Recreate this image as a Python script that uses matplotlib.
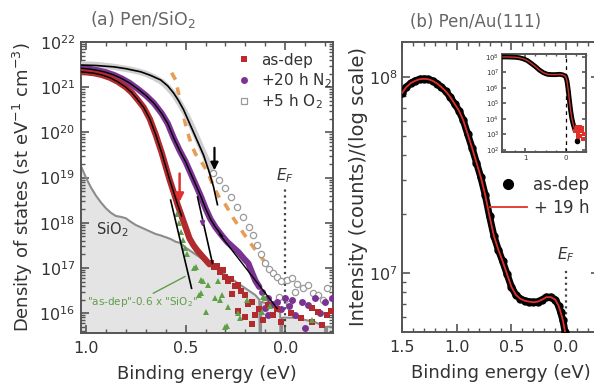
import numpy as np
import matplotlib.pyplot as plt
from matplotlib.lines import Line2D
from matplotlib.ticker import LogLocator, MultipleLocator, NullFormatter, FixedLocator

# ---------------- panel (a): Pen/SiO2, values are log10(DOS) ----------------
asdep_E = [1.025, 1.00, 0.96, 0.92, 0.88, 0.84, 0.80, 0.77, 0.74, 0.71, 0.68, 0.65, 0.62,
           0.60, 0.58, 0.56, 0.54, 0.52, 0.50, 0.48, 0.46, 0.44, 0.42, 0.40, 0.38]
asdep_log = [21.34, 21.33, 21.31, 21.27, 21.21, 21.12, 21.0, 20.88, 20.72, 20.55, 20.3, 19.95, 19.55,
             19.25, 18.95, 18.68, 18.4, 18.15, 17.9, 17.65, 17.5, 17.38, 17.28, 17.18, 17.08]
asdep_tail_E = [0.37, 0.355, 0.34, 0.325, 0.31, 0.30, 0.285, 0.27, 0.265, 0.25, 0.235, 0.235, 0.22,
                0.20, 0.20, 0.185, 0.165, 0.165, 0.15, 0.13, 0.11, 0.085, 0.06, 0.04, 0.02, -0.03,
                -0.08, -0.135, -0.135, -0.165, -0.185, -0.21, -0.23]
asdep_tail_log = [17.12, 17.02, 17.05, 16.92, 16.95, 16.8, 16.7, 16.75, 16.42, 16.6, 16.62, 16.05, 16.5,
                  16.4, 15.92, 16.2, 16.25, 15.75, 15.96, 16.1, 15.85, 16.18, 15.95, 16.1, 15.8, 16.0,
                  15.9, 16.12, 15.8, 16.03, 15.73, 15.95, 16.05]

n2_E = [1.025, 0.98, 0.94, 0.90, 0.86, 0.82, 0.78, 0.74, 0.70, 0.66, 0.62, 0.59, 0.56, 0.53, 0.50,
        0.475, 0.45, 0.425, 0.40, 0.375, 0.35, 0.315, 0.29, 0.265, 0.235, 0.21, 0.185, 0.165, 0.15, 0.13]
n2_log = [21.42, 21.40, 21.37, 21.33, 21.27, 21.19, 21.09, 20.96, 20.82, 20.65, 20.42, 20.2, 19.88, 19.6,
          19.35, 19.1, 18.85, 18.6, 18.32, 18.08, 17.9, 17.7, 17.57, 17.47, 17.35, 17.22, 17.1, 16.88,
          16.72, 16.58]
n2_tail_E = [0.115, 0.10, 0.085, 0.085, 0.065, 0.04, 0.02, 0.0, -0.02, -0.035, -0.05, -0.085, -0.10,
             -0.115, -0.15, -0.175, -0.20, -0.235]
n2_tail_log = [16.47, 16.12, 16.34, 15.96, 16.2, 16.25, 16.1, 16.34, 16.15, 16.3, 15.96, 16.25, 15.67,
               16.18, 16.34, 16.0, 16.25, 16.34]

o2fit_E = [1.025, 0.95, 0.86, 0.80, 0.725, 0.675, 0.625, 0.59, 0.56, 0.535, 0.51, 0.485, 0.46, 0.435,
           0.41, 0.385, 0.36, 0.34]
o2fit_log = [21.49, 21.48, 21.45, 21.41, 21.34, 21.26, 21.16, 21.03, 20.87, 20.7, 20.5, 20.25, 20.0,
             19.75, 19.5, 19.17, 18.8, 18.4]
o2_E = [1.025, 0.98, 0.94, 0.90, 0.86, 0.82, 0.78, 0.74, 0.70, 0.66, 0.62, 0.59, 0.56, 0.53, 0.50,
        0.47, 0.44, 0.41, 0.385, 0.36, 0.33, 0.30, 0.27, 0.24, 0.21, 0.18, 0.16, 0.14, 0.12, 0.10,
        0.08, 0.06, 0.04]
o2_log = [21.5, 21.5, 21.49, 21.47, 21.45, 21.42, 21.39, 21.35, 21.3, 21.22, 21.12, 21.0, 20.85, 20.65,
          20.42, 20.15, 19.85, 19.55, 19.3, 19.1, 18.95, 18.78, 18.57, 18.35, 18.13, 17.9, 17.72, 17.5,
          17.3, 17.1, 16.98, 16.88, 16.8]
o2_tail_E = [0.02, 0.03, -0.01, -0.02, -0.035, -0.05, -0.06, -0.09, -0.115, -0.14, -0.165, -0.19, -0.21]
o2_tail_log = [16.7, 16.35, 16.73, 16.2, 16.78, 16.47, 16.65, 16.55, 16.62, 16.45, 16.4, 16.3, 16.55]

orange_E = [0.57, 0.55, 0.53, 0.51, 0.49, 0.47, 0.45, 0.425, 0.40, 0.385, 0.36, 0.33, 0.30, 0.26,
            0.21, 0.16, 0.11, 0.075]
orange_log = [21.32, 21.16, 20.75, 20.36, 20.0, 19.72, 19.52, 19.38, 19.2, 19.08, 18.8, 18.55, 18.4,
              18.1, 17.77, 17.46, 17.18, 17.0]

green_E = [0.545, 0.535, 0.525, 0.515, 0.505, 0.495, 0.46, 0.45, 0.435, 0.425, 0.425, 0.415, 0.40,
           0.385, 0.35, 0.335, 0.325, 0.315, 0.30, 0.29, 0.285, 0.235, 0.225, 0.19, 0.115, 0.11,
           0.10, 0.075, -0.135]
green_log = [18.2, 18.0, 17.8, 17.62, 17.45, 17.3, 17.0, 17.02, 16.4, 16.73, 16.45, 16.7, 16.03,
             16.62, 16.34, 16.7, 16.3, 16.4, 15.7, 15.72, 16.14, 16.0, 15.9, 16.3, 16.03, 16.35,
             16.34, 16.15, 15.85]

sio2_E = [1.025, 1.0, 0.975, 0.95, 0.925, 0.90, 0.875, 0.85, 0.825, 0.80, 0.775, 0.75, 0.725, 0.70,
          0.675, 0.65, 0.625, 0.60, 0.575, 0.55, 0.525, 0.50, 0.45, 0.40, 0.35, 0.30, 0.25, 0.20,
          0.15, 0.13, 0.125, 0.12, 0.08, 0.05, 0.025, 0.02, 0.015, -0.05, -0.10, -0.15, -0.20,
          -0.205, -0.21, -0.24]
sio2_log = [19.25, 19.0, 18.78, 18.6, 18.45, 18.32, 18.22, 18.15, 18.13, 18.1, 18.02, 17.95, 17.9,
            17.85, 17.8, 17.75, 17.72, 17.68, 17.64, 17.58, 17.55, 17.45, 17.3, 17.15, 17.0, 16.85,
            16.7, 16.55, 16.4, 16.3, 14.0, 16.25, 16.2, 16.1, 16.0, 14.0, 15.9, 15.9, 15.85, 15.8,
            15.7, 14.0, 15.7, 15.7]

# straight onset lines
tan_asdep_E, tan_asdep_log = [0.575, 0.47], [18.5, 16.55]
tan_n2_E, tan_n2_log = [0.44, 0.365], [18.57, 17.1]
n2tail_fit_E, n2tail_fit_log = [0.33, 0.04], [17.75, 16.1]

# ---------------- panel (b): Pen/Au(111), log10(counts) ----------------
b_E = [1.50, 1.46, 1.42, 1.38, 1.34, 1.30, 1.26, 1.22, 1.18, 1.14, 1.10, 1.06, 1.02, 0.98, 0.94,
       0.90, 0.86, 0.82, 0.78, 0.74, 0.70, 0.66, 0.62, 0.58, 0.54, 0.50, 0.46, 0.42, 0.38, 0.34,
       0.30, 0.26, 0.22, 0.18, 0.14, 0.10, 0.07, 0.05, 0.03, 0.01, 0.00]
b_asdep_log = [7.92, 7.95, 7.97, 7.982, 7.99, 7.992, 7.99, 7.982, 7.968, 7.95, 7.928, 7.90, 7.865,
               7.83, 7.78, 7.71, 7.64, 7.565, 7.49, 7.40, 7.29, 7.19, 7.12, 7.06, 6.995, 6.93, 6.89,
               6.87, 6.86, 6.855, 6.852, 6.855, 6.865, 6.878, 6.878, 6.865, 6.835, 6.80, 6.76, 6.70, 6.62]
b_n2_log = b_asdep_log

inset_E = [1.55, 1.45, 1.35, 1.25, 1.15, 1.05, 0.95, 0.85, 0.75, 0.65, 0.55, 0.45, 0.35, 0.25, 0.15,
           0.08, 0.04, 0.02, 0.0, -0.03, -0.06, -0.09, -0.12, -0.15, -0.18, -0.22]
inset_log = [8.0, 8.0, 7.99, 7.98, 7.95, 7.88, 7.77, 7.58, 7.38, 7.15, 6.98, 6.88, 6.86, 6.86, 6.88,
             6.85, 6.8, 6.78, 6.72, 6.45, 5.9, 5.2, 4.55, 4.05, 3.7, 3.35]
inset_tail_E = [-0.24, -0.27, -0.30, -0.33, -0.36, -0.39, -0.42, -0.45, -0.28, -0.35, -0.41, -0.31]
inset_tail_log = [3.2, 3.45, 3.05, 3.3, 2.9, 3.2, 2.7, 3.0, 2.6, 3.5, 3.4, 2.75]

RED = '#b02a2e'
PURPLE = '#7b3393'
GREEN = '#5f9f48'
ORANGE = '#e89c55'
GREY = '#9a9a9a'
SPINE = '#555555'
TXT = '#333333'

plt.rcParams['font.family'] = 'DejaVu Sans'


def p(v):
    return 10 ** np.asarray(v, dtype=float)


def style(ax, size=11.5, major=6, minor=3, pad=6):
    for s in ax.spines.values():
        s.set_color(SPINE)
        s.set_linewidth(1.4)
    ax.tick_params(which='both', direction='in', top=True, right=True, colors=SPINE,
                   labelcolor=TXT, labelsize=size, pad=pad)
    ax.tick_params(which='major', length=major, width=1.2)
    ax.tick_params(which='minor', length=minor, width=1.0)


fig = plt.figure(figsize=(5.94, 3.87), dpi=100)
W, H = 594.0, 387.0
axa = fig.add_axes([81 / W, 1 - 333 / H, 252 / W, 291 / H])
axb = fig.add_axes([402 / W, 1 - 332 / H, 197 / W, 290 / H])
axi = fig.add_axes([502 / W, 1 - 152 / H, 84 / W, 98 / H])

# ---- panel (a)
axa.set_yscale('log')
axa.fill_between(sio2_E, p(sio2_log), 1e10, color='#e4e4e4', lw=0, zorder=1)
axa.plot(sio2_E, p(sio2_log), color='#8c8c8c', lw=1.5, zorder=2)

axa.plot(orange_E, p(orange_log), color=ORANGE, lw=2.6, ls=(0, (2.2, 2.2)), zorder=3)

# O2: upper part is a dense light band under the fit, lower part open circles
axa.plot(o2_E[:20], p(o2_log[:20]), '-', color='#cfcfcf', lw=4.5, zorder=3, solid_capstyle='round')
axa.plot(o2_E[19:], p(o2_log[19:]), 'o', mfc='white', mec=GREY, ms=4.5, mew=0.9, zorder=3)
axa.plot(o2_tail_E, p(o2_tail_log), 'o', mfc='white', mec=GREY, ms=4.5, mew=0.9, zorder=3)
axa.plot(o2fit_E, p(o2fit_log), color='k', lw=1.2, zorder=6)

axa.plot(n2_E, p(n2_log), '-', color=PURPLE, lw=4.5, zorder=4, solid_capstyle='round')
axa.plot(n2_tail_E, p(n2_tail_log), 'o', color=PURPLE, ms=5, mew=0, zorder=4)
axa.plot(n2_E[:22], p(n2_log[:22]), color='k', lw=1.0, zorder=6)
axa.plot(n2tail_fit_E, p(n2tail_fit_log), color='k', lw=1.0, zorder=6)

axa.plot(asdep_E, p(asdep_log), '-', color=RED, lw=4.5, zorder=4, solid_capstyle='round')
axa.plot(asdep_tail_E, p(asdep_tail_log), 's', color=RED, ms=5, mew=0, zorder=4)
axa.plot(asdep_E[:18], p(asdep_log[:18]), color='k', lw=1.0, zorder=6)

axa.plot(green_E, p(green_log), '^', color=GREEN, ms=5, mew=0, zorder=5)

axa.plot(tan_asdep_E, p(tan_asdep_log), color='k', lw=1.2, zorder=6)
axa.plot(tan_n2_E, p(tan_n2_log), color='k', lw=1.2, zorder=6)

axa.axvline(0.0, ymax=0.50, color='#444444', ls=':', lw=1.6, zorder=2)
axa.text(0.0, 10 ** 19.05, '$E_F$', color=TXT, fontsize=11, ha='center', va='center')

# arrows
axa.annotate('', xy=(0.53, 10 ** 18.4), xytext=(0.53, 10 ** 19.15),
             arrowprops=dict(arrowstyle='-|>', color='#e03030', lw=1.8, mutation_scale=12), zorder=7)
axa.annotate('', xy=(0.355, 10 ** 19.1), xytext=(0.355, 10 ** 19.72),
             arrowprops=dict(arrowstyle='-|>', color='k', lw=1.6, mutation_scale=11), zorder=7)
axa.annotate('', xy=(0.415, 10 ** 17.85), xytext=(0.415, 10 ** 18.12),
             arrowprops=dict(arrowstyle='-|>', color=PURPLE, lw=1.2, mutation_scale=7), zorder=7)

axa.text(0.95, 10 ** 17.84, 'SiO$_2$', color=TXT, fontsize=10.5, ha='left', va='center', zorder=7)
axa.annotate('', xy=(0.49, 10 ** 16.84), xytext=(0.675, 10 ** 16.41),
             arrowprops=dict(arrowstyle='-', color=GREEN, lw=1.0), zorder=7)
axa.text(0.995, 10 ** 16.25, '"as-dep"-0.6 x "SiO$_2$"', color=GREEN, fontsize=7.5,
         ha='left', va='center', zorder=7)

axa.set_xlim(1.025, -0.24)
axa.set_ylim(10 ** 15.56, 1e22)
axa.xaxis.set_major_locator(FixedLocator([1.0, 0.5, 0.0]))
axa.xaxis.set_minor_locator(MultipleLocator(0.1))
axa.yaxis.set_major_locator(FixedLocator([1e16, 1e17, 1e18, 1e19, 1e20, 1e21, 1e22]))
axa.yaxis.set_minor_locator(LogLocator(base=10, subs=np.arange(2, 10), numticks=40))
axa.yaxis.set_minor_formatter(NullFormatter())
axa.set_xticklabels(['1.0', '0.5', '0.0'])
style(axa)
axa.tick_params(axis='y', pad=4)
axa.set_xlabel('Binding energy (eV)', fontsize=13, color=TXT, labelpad=6)
axa.set_ylabel('Density of states (st eV$^{-1}$ cm$^{-3}$)', fontsize=13, color=TXT, labelpad=3)

leg_a = [Line2D([], [], ls='none', marker='s', color='#c0282e', ms=5, mew=0, label='as-dep'),
         Line2D([], [], ls='none', marker='o', color=PURPLE, ms=5, mew=0, label='+20 h N$_2$'),
         Line2D([], [], ls='none', marker='s', mfc='white', mec=GREY, ms=5, mew=0.9, label='+5 h O$_2$')]
axa.legend(handles=leg_a, loc='upper right', bbox_to_anchor=(1.05, 1.01), frameon=False,
           fontsize=11, handlelength=0.8, handletextpad=0.7, labelspacing=0.2, labelcolor=TXT)

# ---- panel (b)
axb.set_yscale('log')
axb.plot(b_E, p(b_asdep_log), '-', color='k', lw=5, zorder=3, solid_capstyle='round')
axb.plot(b_E, p(b_asdep_log), 'o', color='k', ms=5, zorder=3)
axb.plot(b_E, p(b_n2_log), '-', color='#e0302a', lw=1.3, zorder=4)
axb.axvline(0.0, ymax=0.22, color='#444444', ls=':', lw=1.6, zorder=2)
axb.text(0.0, 0.265, '$E_F$', transform=axb.get_xaxis_transform(), color=TXT, fontsize=11,
         ha='center', va='center')
axb.set_xlim(1.5, -0.3)
axb.set_ylim(10 ** 6.7, 10 ** 8.18)
axb.xaxis.set_major_locator(FixedLocator([1.5, 1.0, 0.5, 0.0]))
axb.xaxis.set_minor_locator(MultipleLocator(0.1))
axb.set_xticklabels(['1.5', '1.0', '0.5', '0.0'])
axb.yaxis.set_major_locator(FixedLocator([1e7, 1e8]))
axb.yaxis.set_minor_locator(LogLocator(base=10, subs=np.arange(2, 10), numticks=40))
axb.yaxis.set_minor_formatter(NullFormatter())
style(axb)
axb.tick_params(axis='y', pad=3)
axb.set_xlabel('Binding energy (eV)', fontsize=13, color=TXT, labelpad=6)
axb.set_ylabel('Intensity (counts)/(log scale)', fontsize=14, color=TXT, labelpad=1)

leg_b = [Line2D([], [], ls='none', marker='o', color='k', ms=7, label='as-dep'),
         Line2D([], [], color='#e0302a', lw=1.3, label='+ 19 h N$_2$')]
axb.legend(handles=leg_b, loc='upper left', bbox_to_anchor=(0.37, 0.59), frameon=False,
           fontsize=12, handlelength=2.2, handletextpad=0.4, labelspacing=0.2, labelcolor=TXT)

# ---- inset
axi.set_yscale('log')
axi.plot(inset_E, p(inset_log), '-', color='k', lw=3.5, zorder=3)
axi.plot(inset_E, p(inset_log), '-', color='#d0302a', lw=1.0, zorder=4)
axi.plot(inset_tail_E, p(inset_tail_log), 's', color='#e0302a', ms=3, mew=0, zorder=4)
axi.plot(inset_tail_E[8:9], p(inset_tail_log[8:9]), 'o', color='k', ms=3, zorder=5)
axi.axvline(0.0, color='k', ls=(0, (3, 3)), lw=0.9, zorder=2)
axi.set_xlim(1.575, -0.5)
axi.set_ylim(10 ** 1.87, 10 ** 8.19)
axi.xaxis.set_major_locator(FixedLocator([1.0, 0.0]))
axi.xaxis.set_minor_locator(MultipleLocator(0.25))
axi.set_xticklabels(['1', '0'])
axi.yaxis.set_major_locator(FixedLocator([1e2, 1e3, 1e4, 1e5, 1e6, 1e7, 1e8]))
axi.yaxis.set_minor_locator(FixedLocator([]))
style(axi, size=5, major=3, minor=1.5, pad=2)
axi.patch.set_facecolor('white')

fig.text(90 / W, 1 - 20 / H, '(a) Pen/SiO$_2$', fontsize=12.5, color='#666666', ha='left', va='center')
fig.text(410 / W, 1 - 22 / H, '(b) Pen/Au(111)', fontsize=12, color='#666666', ha='left', va='center')

fig.savefig('out.png', dpi=100)
